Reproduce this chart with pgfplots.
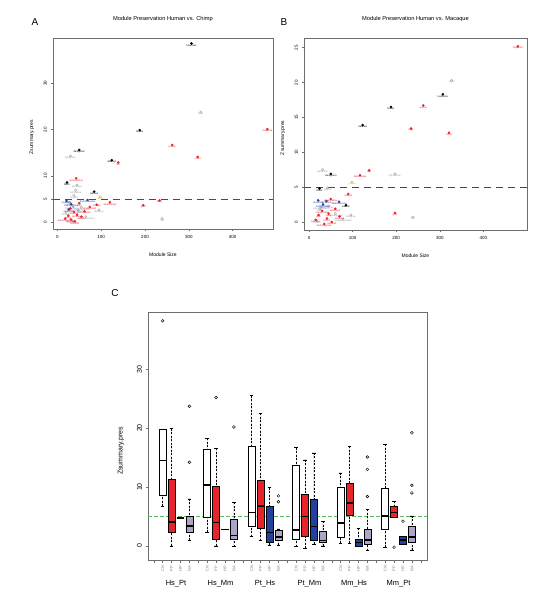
\documentclass[border=0pt]{standalone}
\usepackage{pgfplots}
\pgfplotsset{compat=1.18}
\usepgfplotslibrary{statistics}
\usepackage{fontspec}
\setmainfont{Liberation Sans}
\definecolor{axgray}{HTML}{6E6E6E}
\definecolor{rred}{HTML}{E8232A}
\definecolor{rblue}{HTML}{23409C}
\definecolor{rlav}{HTML}{ADA5C5}
\definecolor{rgrey}{HTML}{9A9A9A}
\definecolor{rltblue}{HTML}{8FA6C8}
\definecolor{ryellow}{HTML}{E0B818}
\definecolor{rgreen}{HTML}{5DBB63}
\pgfplotsset{
  rbase/.style={
    scale only axis, clip=false,
    axis line style={axgray, line width=0.7pt},
    tick style={axgray, line width=0.5pt}, tick align=outside, major tick length=2.5pt,
    xtick pos=left, ytick pos=left,
    /pgf/number format/assume math mode=true,
    yticklabel style={rotate=90, anchor=south},
  },
  lab/.style={nodes near coords, point meta=explicit symbolic,
    every node near coord/.append style={font=\fontsize{2.5}{3}\selectfont, anchor=north, inner sep=0.7pt, text=#1}},
  pblack/.style={only marks, mark=*, mark size=1.1pt, black, lab=black},
  pred/.style={only marks, mark=*, mark size=1.1pt, rred, lab=rred},
  pgrey/.style={only marks, mark=o, mark size=1.2pt, rgrey, line width=0.35pt, lab=rgrey},
  pblue/.style={only marks, mark=*, mark size=1.1pt, rblue, lab=rblue},
  plt/.style={only marks, mark=*, mark size=1.1pt, rltblue, lab=rltblue},
  pyel/.style={only marks, mark=o, mark size=1.2pt, ryellow, line width=0.4pt, lab=ryellow},
  rb/.style={boxplot prepared={#1, box extend=0.8, whisker extend=0.4}, draw=black, line width=0.5pt},
}
\begin{document}
\begin{tikzpicture}
\path[use as bounding box] (0pt,0pt) rectangle (543pt,599pt);
\node[font=\fontsize{10}{12}\selectfont] at (35pt,577pt) {A};
\node[font=\fontsize{10}{12}\selectfont] at (284pt,577pt) {B};
\node[font=\fontsize{10}{12}\selectfont] at (115pt,306pt) {C};

% ---------------- Panel A ----------------
\begin{axis}[rbase, at={(53pt,370pt)}, anchor=south west, width=220pt, height=191pt,
  xmin=-9.8, xmax=491.9, ymin=-1.45, ymax=39.8,
  xtick={0,100,200,300,400}, ytick={0,5,10,20,30},
  tick label style={font=\fontsize{4.5}{5}\selectfont},
  title={Module Preservation Human vs. Chimp},
  title style={font=\fontsize{5.7}{6.5}\selectfont, at={(0.5,1)}, anchor=south, yshift=7pt},
  xlabel={Module Size}, ylabel={Zsummary.pres},
  xlabel style={font=\fontsize{5}{6}\selectfont, at={(axis description cs:0.5,-0.136)}, anchor=center},
  ylabel style={font=\fontsize{5}{6}\selectfont, at={(axis description cs:-0.0955,0.48)}, anchor=center},
]
\addplot[gray!60!black, line width=0.8pt, dash pattern=on 7pt off 5pt] coordinates {(-9.8,5) (491.9,5)};
\addplot[pgrey] table[meta=label] {
x y label
327 23.8 cyan
30 14.3 lightgreen
45 8.0 lightcyan
42 6.9 lightyellow
38 5.8 grey60
28 4.3 white
55 3.2 paleturquoise
20 2.1 thistle2
95 2.7 darkgrey
239 0.8 red
65 1.2 mediumpurple3
35 0.3 floralwhite
};
\addplot[pblue] table[meta=label] {
x y label
21 4.6 royalblue
69 4.8 darkturquoise
32 3.9 midnightblue
26 2.8 steelblue
};
\addplot[plt] table[meta=label] {
x y label
36 3.4 lightsteelblue1
48 2.6 skyblue
};
\addplot[pyel] table[meta=label] {
x y label
98 5.5 yellow
};
\addplot[pred] table[meta=label] {
x y label
479 20.1 magenta
262 16.7 purple
320 14.1 violet
139 12.9 tan
43 9.5 greenyellow
120 4.3 darkorange
196 3.7 gold
233 4.7 navy
90 3.8 orange
50 4.1 pink
74 3.3 orangered4
30 3.0 plum1
38 2.2 sienna3
45 1.6 skyblue3
25 1.4 ivory
18 0.8 darkmagenta
31 0.6 bisque4
40 0.2 brown4
55 1.2 coral1
62 2.4 honeydew1
};
\addplot[pblack] table[meta=label] {
x y label
306 38.6 turquoise
188 19.9 brown
50 15.6 darkgreen
124 13.4 darkred
22 8.6 black
84 6.6 salmon
};
\end{axis}

% ---------------- Panel B ----------------
\begin{axis}[rbase, at={(304pt,369pt)}, anchor=south west, width=223pt, height=192pt,
  xmin=-11.5, xmax=500, ymin=-1.15, ymax=26.4,
  xtick={0,100,200,300,400}, ytick={0,5,10,15,20,25},
  tick label style={font=\fontsize{4.5}{5}\selectfont},
  title={Module Preservation Human vs. Macaque},
  title style={font=\fontsize{5.7}{6.5}\selectfont, at={(0.5,1)}, anchor=south, yshift=7pt},
  xlabel={Module Size}, ylabel={Zsummary.pres},
  xlabel style={font=\fontsize{5}{6}\selectfont, at={(axis description cs:0.5,-0.135)}, anchor=center},
  ylabel style={font=\fontsize{5}{6}\selectfont, at={(axis description cs:-0.094,0.48)}, anchor=center},
]
\addplot[gray!60!black, line width=0.8pt, dash pattern=on 7pt off 5pt] coordinates {(-11.5,5) (500,5)};
\addplot[pgrey] table[meta=label] {
x y label
327 20.3 cyan
31 7.5 lightgreen
197 6.9 lightyellow
238 0.7 red
96 1.0 darkgrey
42 4.9 grey60
45 2.3 lightcyan
25 1.9 white
60 1.2 paleturquoise
18 0.2 thistle2
78 0.4 mediumpurple3
};
\addplot[pblue] table[meta=label] {
x y label
21 3.1 royalblue
69 2.9 darkturquoise
32 2.5 midnightblue
40 3.0 steelblue
};
\addplot[plt] table[meta=label] {
x y label
28 2.2 lightsteelblue1
};
\addplot[pyel] table[meta=label] {
x y label
99 5.7 yellow
};
\addplot[pred] table[meta=label] {
x y label
479 25.2 magenta
262 16.7 purple
234 13.4 navy
321 12.8 violet
138 7.4 tan
117 6.7 darkorange
90 4.0 orange
197 1.3 gold
50 3.3 greenyellow
22 1.0 pink
41 0.5 plum1
52 0.0 sienna3
30 1.6 orangered4
60 1.9 skyblue3
35 -0.3 darkmagenta
45 1.2 ivory
70 0.8 bisque4
15 0.3 brown4
};
\addplot[pblack] table[meta=label] {
x y label
307 18.3 turquoise
188 16.5 brown
123 13.9 darkred
50 6.9 darkgreen
24 4.8 black
85 2.4 salmon
};
\end{axis}

% ---------------- Panel C ----------------
\begin{axis}[rbase, at={(148pt,39pt)}, anchor=south west, width=279pt, height=248pt,
  xmin=-0.65, xmax=30.7, ymin=-2.38, ymax=39.7,
  boxplot/draw direction=y,
  boxplot/every median/.style={line width=1.6pt, black},
  boxplot/draw/lower whisker/.code={%
    \draw[black, line width=0.5pt, dash pattern=on 2pt off 1.5pt] (boxplot box cs:\pgfplotsboxplotvalue{lower whisker},0.5) -- (boxplot box cs:\pgfplotsboxplotvalue{lower quartile},0.5);
    \draw[black, line width=0.5pt] (boxplot whisker cs:\pgfplotsboxplotvalue{lower whisker},0) -- (boxplot whisker cs:\pgfplotsboxplotvalue{lower whisker},1);
  },
  boxplot/draw/upper whisker/.code={%
    \draw[black, line width=0.5pt, dash pattern=on 2pt off 1.5pt] (boxplot box cs:\pgfplotsboxplotvalue{upper whisker},0.5) -- (boxplot box cs:\pgfplotsboxplotvalue{upper quartile},0.5);
    \draw[black, line width=0.5pt] (boxplot whisker cs:\pgfplotsboxplotvalue{upper whisker},0) -- (boxplot whisker cs:\pgfplotsboxplotvalue{upper whisker},1);
  },
  xtick={0,...,30},
  xticklabels={,CN,PP,HP,NA,,CN,PP,HP,NA,,CN,PP,HP,NA,,CN,PP,HP,NA,,CN,PP,HP,NA,,CN,PP,HP,NA,},
  xticklabel style={rotate=90, anchor=east, font=\fontsize{4}{4}\selectfont, text=gray},
  ytick={0,10,20,30},
  yticklabel style={font=\fontsize{7}{8}\selectfont},
  ylabel={Zsummary.pres},
  ylabel style={font=\fontsize{7}{8}\selectfont, at={(axis description cs:-0.097,0.44)}, anchor=center},
]
\addplot[rgreen, line width=0.5pt, dash pattern=on 4pt off 2pt] coordinates {(-0.65,5) (30.7,5)};
% Hs_Pt
\addplot[rb={draw position=1, lower whisker=6.7, lower quartile=8.6, median=14.5, upper quartile=19.8, upper whisker=19.8}, fill=white] coordinates {};
\addplot[rb={draw position=2, lower whisker=0, lower quartile=2.4, median=4.1, upper quartile=11.3, upper whisker=19.9}, fill=rred] coordinates {};
\addplot[rb={draw position=3, lower whisker=4.7, lower quartile=4.7, median=4.7, upper quartile=4.7, upper whisker=4.7}, fill=rblue] coordinates {};
\addplot[rb={draw position=4, lower whisker=1.0, lower quartile=2.4, median=3.4, upper quartile=5.1, upper whisker=8.0}, fill=rlav] coordinates {};
% Hs_Mm
\addplot[rb={draw position=6, lower whisker=2.3, lower quartile=4.9, median=10.3, upper quartile=16.4, upper whisker=18.3}, fill=white] coordinates {};
\addplot[rb={draw position=7, lower whisker=0, lower quartile=1.1, median=4.0, upper quartile=10.1, upper whisker=16.6}, fill=rred] coordinates {};
\addplot[rb={draw position=8, lower whisker=2.8, lower quartile=2.8, median=2.8, upper quartile=2.8, upper whisker=2.8}, fill=rblue] coordinates {};
\addplot[rb={draw position=9, lower whisker=-0.1, lower quartile=1.1, median=1.8, upper quartile=4.5, upper whisker=7.4}, fill=rlav] coordinates {};
% Pt_Hs
\addplot[rb={draw position=11, lower whisker=1.6, lower quartile=3.3, median=5.7, upper quartile=17.0, upper whisker=25.5}, fill=white] coordinates {};
\addplot[rb={draw position=12, lower whisker=0.9, lower quartile=3.0, median=6.8, upper quartile=11.2, upper whisker=22.5}, fill=rred] coordinates {};
\addplot[rb={draw position=13, lower whisker=0.2, lower quartile=0.7, median=2.3, upper quartile=6.7, upper whisker=9.9}, fill=rblue] coordinates {};
\addplot[rb={draw position=14, lower whisker=0.2, lower quartile=1.0, median=1.5, upper quartile=2.7, upper whisker=2.9}, fill=rlav] coordinates {};
% Pt_Mm
\addplot[rb={draw position=16, lower whisker=-0.1, lower quartile=1.1, median=2.7, upper quartile=13.7, upper whisker=16.7}, fill=white] coordinates {};
\addplot[rb={draw position=17, lower whisker=-0.4, lower quartile=1.6, median=5.0, upper quartile=8.8, upper whisker=14.6}, fill=rred] coordinates {};
\addplot[rb={draw position=18, lower whisker=0.3, lower quartile=1.0, median=3.3, upper quartile=8.0, upper whisker=15.8}, fill=rblue] coordinates {};
\addplot[rb={draw position=19, lower whisker=0.0, lower quartile=0.6, median=0.9, upper quartile=2.5, upper whisker=4.2}, fill=rlav] coordinates {};
% Mm_Hs
\addplot[rb={draw position=21, lower whisker=0.5, lower quartile=1.4, median=3.9, upper quartile=9.9, upper whisker=12.4}, fill=white] coordinates {};
\addplot[rb={draw position=22, lower whisker=0.5, lower quartile=5.2, median=7.3, upper quartile=10.6, upper whisker=16.9}, fill=rred] coordinates {};
\addplot[rb={draw position=23, lower whisker=0.0, lower quartile=0.0, median=0.6, upper quartile=1.2, upper whisker=3.0}, fill=rblue] coordinates {};
\addplot[rb={draw position=24, lower whisker=-0.8, lower quartile=0.3, median=1.0, upper quartile=2.8, upper whisker=6.2}, fill=rlav] coordinates {};
% Mm_Pt
\addplot[rb={draw position=26, lower whisker=-0.2, lower quartile=2.8, median=5.1, upper quartile=9.8, upper whisker=17.3}, fill=white] coordinates {};
\addplot[rb={draw position=27, lower whisker=4.8, lower quartile=4.8, median=5.7, upper quartile=6.7, upper whisker=7.6}, fill=rred] coordinates {};
\addplot[rb={draw position=28, lower whisker=0.3, lower quartile=0.3, median=1.0, upper quartile=1.6, upper whisker=1.6}, fill=rblue] coordinates {};
\addplot[rb={draw position=29, lower whisker=-0.7, lower quartile=0.6, median=1.5, upper quartile=3.3, upper whisker=5.1}, fill=rlav] coordinates {};
% outliers
\addplot[only marks, mark=o, mark size=1.4pt, black, line width=0.45pt] coordinates {
(1,38.2) (4,23.7) (4,14.2) (7,25.2) (9,20.2) (14,8.5) (14,7.5)
(24,15.1) (24,13.0) (24,8.4) (27,-0.2) (28,4.2) (29,19.2) (29,10.3) (29,9.0)};
% group labels
\node[font=\fontsize{7.5}{8}\selectfont] at (axis cs:2.5,-2.38) [yshift=-24pt] {Hs\_Pt};
\node[font=\fontsize{7.5}{8}\selectfont] at (axis cs:7.5,-2.38) [yshift=-24pt] {Hs\_Mm};
\node[font=\fontsize{7.5}{8}\selectfont] at (axis cs:12.5,-2.38) [yshift=-24pt] {Pt\_Hs};
\node[font=\fontsize{7.5}{8}\selectfont] at (axis cs:17.5,-2.38) [yshift=-24pt] {Pt\_Mm};
\node[font=\fontsize{7.5}{8}\selectfont] at (axis cs:22.5,-2.38) [yshift=-24pt] {Mm\_Hs};
\node[font=\fontsize{7.5}{8}\selectfont] at (axis cs:27.5,-2.38) [yshift=-24pt] {Mm\_Pt};
\end{axis}
\end{tikzpicture}
\end{document}
